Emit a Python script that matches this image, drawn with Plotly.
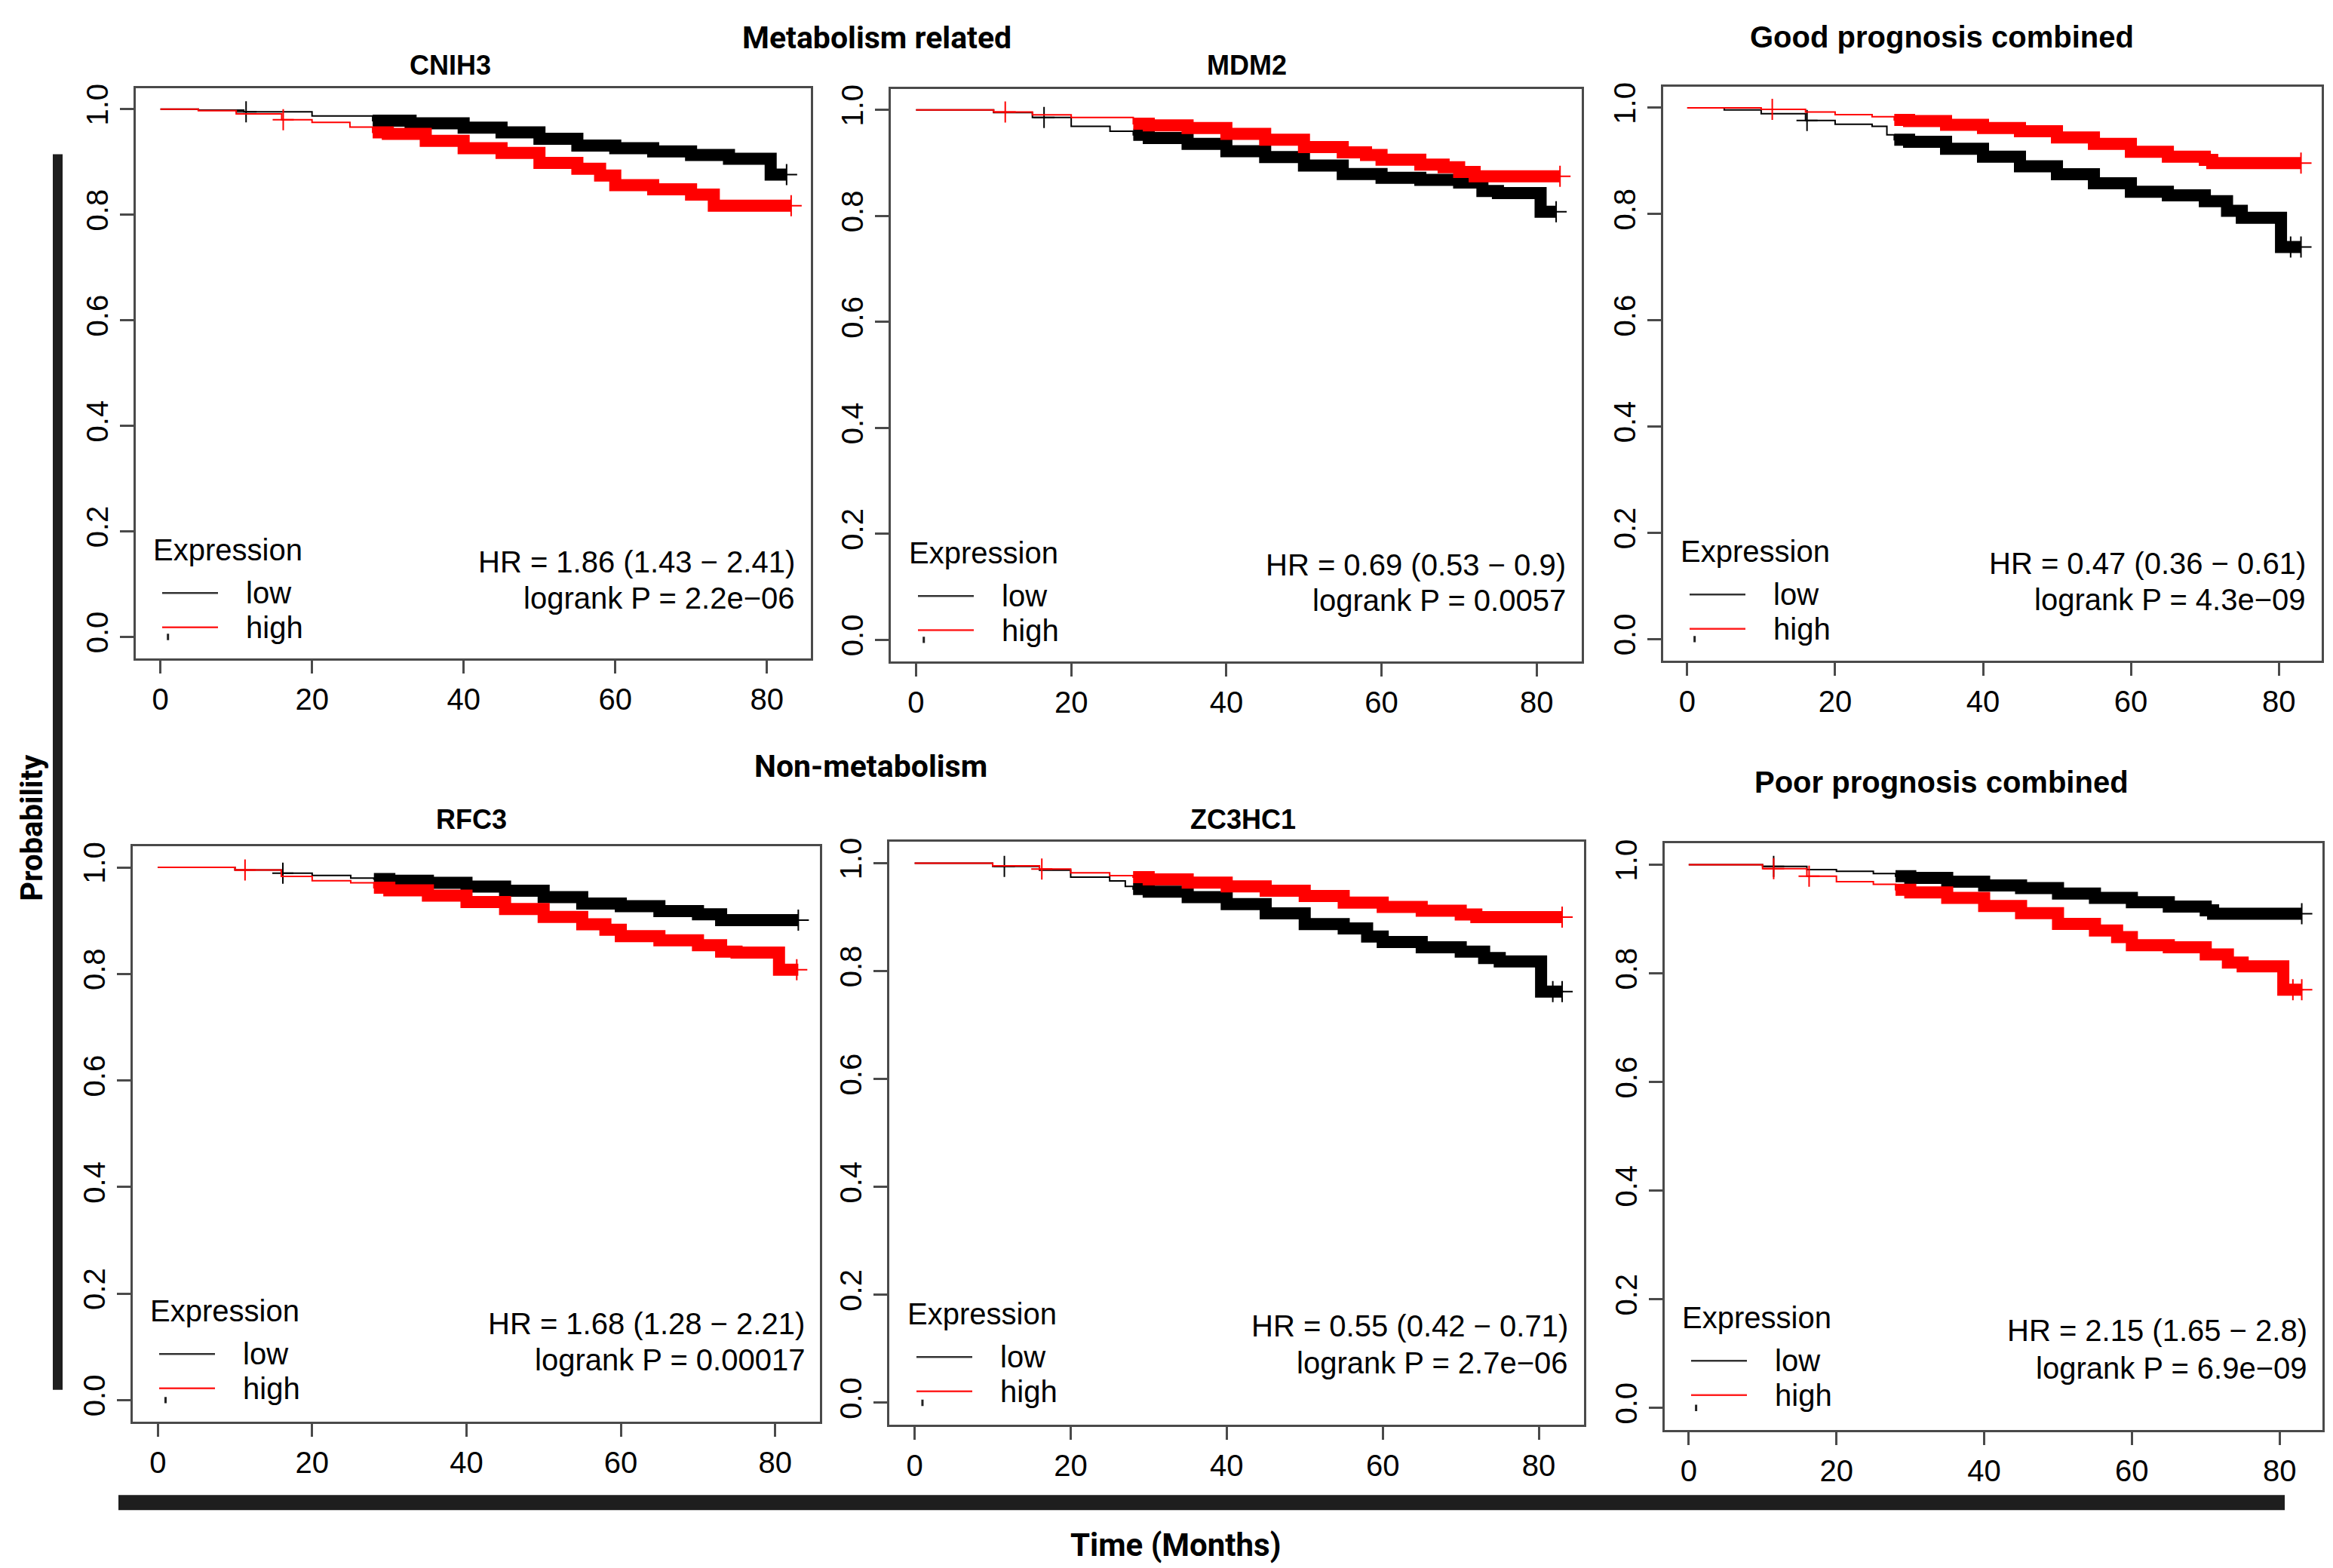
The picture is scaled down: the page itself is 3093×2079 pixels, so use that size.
import plotly.graph_objects as go

W, H = 3093, 2079

# ---------------- data ----------------
panel_titles = ["CNIH3", "MDM2", "Good prognosis combined", "RFC3", "ZC3HC1", "Poor prognosis combined"]
group_titles = ["Metabolism related", "Non-metabolism"]
legend_title = "Expression"
legend_labels = ["low", "high"]
x_ticks = [0, 20, 40, 60, 80]
y_ticks = [0.0, 0.2, 0.4, 0.6, 0.8, 1.0]
y_tick_labels = ["0.0", "0.2", "0.4", "0.6", "0.8", "1.0"]

hr_lines = [
    ("HR = 1.86 (1.43 − 2.41)", "logrank P = 2.2e−06"),
    ("HR = 0.69 (0.53 − 0.9)", "logrank P = 0.0057"),
    ("HR = 0.47 (0.36 − 0.61)", "logrank P = 4.3e−09"),
    ("HR = 1.68 (1.28 − 2.21)", "logrank P = 0.00017"),
    ("HR = 0.55 (0.42 − 0.71)", "logrank P = 2.7e−06"),
    ("HR = 2.15 (1.65 − 2.8)", "logrank P = 6.9e−09"),
]

# Kaplan-Meier step knots (time in months, survival after the step)
CNIH3_low_t = [0, 5, 11, 20, 28, 33, 40, 45, 50, 55, 60, 65, 70, 75, 80.5, 82.6]
CNIH3_low_s = [1.0, 0.998, 0.995, 0.987, 0.978, 0.973, 0.965, 0.956, 0.944, 0.931, 0.926, 0.92, 0.913, 0.906, 0.876, 0.876]
CNIH3_high_t = [0, 5, 10, 16, 20, 25, 28, 30, 35, 40, 45, 50, 55, 58, 60, 65, 70, 73, 83.2]
CNIH3_high_s = [1.0, 0.997, 0.991, 0.98, 0.975, 0.966, 0.956, 0.953, 0.94, 0.926, 0.917, 0.898, 0.887, 0.874, 0.856, 0.848, 0.838, 0.817, 0.817]

MDM2_low_t = [0, 10, 15, 20, 25, 28, 30, 35, 40, 45, 50, 55, 60, 65, 70, 73, 75, 80.5, 82.5]
MDM2_low_s = [1.0, 0.995, 0.986, 0.969, 0.96, 0.953, 0.947, 0.936, 0.922, 0.911, 0.895, 0.879, 0.872, 0.868, 0.863, 0.847, 0.843, 0.808, 0.808]
MDM2_high_t = [0, 10, 15, 20, 28, 30, 35, 40, 45, 50, 55, 58, 60, 65, 68, 70, 72, 83]
MDM2_high_s = [1.0, 0.996, 0.991, 0.986, 0.974, 0.971, 0.966, 0.955, 0.944, 0.93, 0.92, 0.915, 0.906, 0.897, 0.892, 0.883, 0.875, 0.875]

Good_low_t = [0, 5, 10, 16, 20, 25, 27, 28, 30, 35, 40, 45, 50, 55, 60, 65, 70, 73, 75, 80.3, 83]
Good_low_s = [1.0, 0.996, 0.989, 0.976, 0.969, 0.965, 0.949, 0.94, 0.936, 0.923, 0.908, 0.89, 0.875, 0.858, 0.842, 0.835, 0.824, 0.806, 0.793, 0.738, 0.738]
Good_high_t = [0, 10, 16, 20, 25, 28, 30, 35, 40, 45, 50, 55, 60, 65, 70, 71, 83]
Good_high_s = [1.0, 0.997, 0.992, 0.987, 0.983, 0.977, 0.975, 0.968, 0.962, 0.956, 0.944, 0.932, 0.917, 0.908, 0.902, 0.896, 0.896]

RFC3_low_t = [0, 10, 16, 20, 25, 28, 30, 35, 40, 45, 50, 55, 60, 65, 70, 73, 83]
RFC3_low_s = [1.0, 0.995, 0.989, 0.985, 0.98, 0.978, 0.975, 0.971, 0.964, 0.956, 0.944, 0.932, 0.927, 0.918, 0.912, 0.901, 0.901]
RFC3_high_t = [0, 10, 16, 20, 25, 28, 30, 35, 40, 45, 50, 55, 58, 60, 65, 70, 73, 75, 80.5, 83]
RFC3_high_s = [1.0, 0.995, 0.983, 0.975, 0.971, 0.962, 0.957, 0.947, 0.935, 0.922, 0.907, 0.893, 0.883, 0.871, 0.863, 0.854, 0.842, 0.84, 0.808, 0.808]

ZC3HC1_low_t = [0, 10, 16, 20, 25, 27, 28, 30, 35, 40, 45, 50, 55, 58, 60, 65, 70, 73, 75, 80.3, 83]
ZC3HC1_low_s = [1.0, 0.994, 0.987, 0.974, 0.967, 0.957, 0.952, 0.947, 0.937, 0.924, 0.907, 0.887, 0.879, 0.864, 0.854, 0.844, 0.836, 0.824, 0.818, 0.762, 0.762]
ZC3HC1_high_t = [0, 10, 16, 20, 25, 28, 30, 35, 40, 45, 50, 55, 60, 65, 70, 72, 83]
ZC3HC1_high_s = [1.0, 0.995, 0.989, 0.982, 0.977, 0.974, 0.97, 0.964, 0.957, 0.949, 0.939, 0.927, 0.919, 0.912, 0.905, 0.9, 0.9]

Poor_low_t = [0, 10, 16, 20, 25, 28, 30, 35, 40, 45, 50, 55, 60, 65, 70, 71, 83]
Poor_low_s = [1.0, 0.997, 0.991, 0.988, 0.984, 0.979, 0.976, 0.969, 0.962, 0.957, 0.947, 0.939, 0.931, 0.923, 0.916, 0.91, 0.91]
Poor_high_t = [0, 10, 16, 20, 25, 28, 30, 35, 40, 45, 50, 55, 58, 60, 65, 70, 73, 75, 80.5, 83]
Poor_high_s = [1.0, 0.993, 0.979, 0.969, 0.964, 0.954, 0.949, 0.939, 0.924, 0.911, 0.891, 0.879, 0.867, 0.852, 0.848, 0.835, 0.82, 0.813, 0.77, 0.77]

# sparse censoring marks (months); dense censoring starts at band_start
CNIH3_low_c = [11.3, 82.6]
CNIH3_high_c = [16.2, 83.2]
MDM2_low_c = [16.5, 82.5]
MDM2_high_c = [11.5, 83]
Good_low_c = [16.2, 81.6, 83]
Good_high_c = [11.5, 83]
RFC3_low_c = [16.2, 83]
RFC3_high_c = [11.3, 82.8]
ZC3HC1_low_c = [11.5, 81.8, 83]
ZC3HC1_high_c = [16.3, 83]
Poor_low_c = [11.5, 83]
Poor_high_c = [11.5, 16.3, 81.8, 83]
band_start = 28

# small stray legend point drawn by R in every panel (month, probability)
legend_dot_t = [1.0]
legend_dot_s = [0.0]

curves = [
    [(CNIH3_low_t, CNIH3_low_s, CNIH3_low_c), (CNIH3_high_t, CNIH3_high_s, CNIH3_high_c)],
    [(MDM2_low_t, MDM2_low_s, MDM2_low_c), (MDM2_high_t, MDM2_high_s, MDM2_high_c)],
    [(Good_low_t, Good_low_s, Good_low_c), (Good_high_t, Good_high_s, Good_high_c)],
    [(RFC3_low_t, RFC3_low_s, RFC3_low_c), (RFC3_high_t, RFC3_high_s, RFC3_high_c)],
    [(ZC3HC1_low_t, ZC3HC1_low_s, ZC3HC1_low_c), (ZC3HC1_high_t, ZC3HC1_high_s, ZC3HC1_high_c)],
    [(Poor_low_t, Poor_low_s, Poor_low_c), (Poor_high_t, Poor_high_s, Poor_high_c)],
]

# ---------------- layout geometry (pixels) ----------------
boxes = [  # left, right, top, bottom
    (172, 1067, 103, 861),
    (1173, 2089, 104, 865),
    (2197, 3070, 101, 864),
    (168, 1079, 1111, 1876),
    (1171, 2092, 1105, 1880),
    (2199, 3071, 1107, 1887),
]
title_pos = [(589, 73), (1645, 73), (2566, 35), (617, 1076), (1640, 1076), (2566, 1026)]
group_pos = [(1154, 36), (1146, 1005)]
hr_pos = [(1048, 733, 781), (2070, 737, 784), (3051, 735, 783),
          (1061, 1746, 1794), (2073, 1749, 1798), (3053, 1755, 1805)]
leg_pos = [(193, 717), (1195, 721), (2218, 719), (189, 1729), (1193, 1733), (2220, 1738)]

colors = ["#000000", "#ff0000"]
key_colors = ["#333333", "#ff2020"]
FONT = "Liberation Sans, Arial, sans-serif"
BOLD2 = "Roboto, Liberation Sans, sans-serif"


def px(x):
    return x / W


def py(y):
    return 1 - y / H


def step_value(t, s, x):
    v = s[0]
    for ti, si in zip(t, s):
        if ti <= x:
            v = si
    return v


fig = go.Figure()
layout = dict(
    width=W, height=H, margin=dict(l=0, r=0, t=0, b=0),
    paper_bgcolor="white", plot_bgcolor="white", showlegend=False,
)
annotations = []
shapes = []

for i, (box, pcurves) in enumerate(zip(boxes, curves)):
    n = i + 1
    xa = "x" if n == 1 else f"x{n}"
    ya = "y" if n == 1 else f"y{n}"
    l, r, t, b = box
    axis_common = dict(
        showline=True, mirror=True, linecolor="#4a4a4a", linewidth=2.5,
        ticks="outside", ticklen=18, tickwidth=2.5, tickcolor="#4a4a4a",
        showgrid=False, zeroline=False,
        tickfont=dict(family=FONT, size=40, color="#000"),
    )
    layout["xaxis" if n == 1 else f"xaxis{n}"] = dict(
        domain=[px(l), px(r)], range=[-3.25, 85.8], tickvals=x_ticks,
        anchor=ya, **axis_common)
    layout["yaxis" if n == 1 else f"yaxis{n}"] = dict(
        domain=[py(b), py(t)], range=[-0.04, 1.04], tickvals=y_ticks,
        ticktext=y_tick_labels, tickangle=-90, anchor=xa, **axis_common)

    for k, (tt, ss, cc) in enumerate(pcurves):
        col = colors[k]
        # thin step curve
        fig.add_trace(go.Scatter(
            x=tt, y=ss, mode="lines", line=dict(color=col, width=2, shape="hv"),
            name=legend_labels[k], xaxis=xa, yaxis=ya, hoverinfo="skip"))
        # dense censoring band
        bx = [band_start] + [v for v in tt if v > band_start]
        by = [step_value(tt, ss, band_start)] + [v for v, q in zip(ss, tt) if q > band_start]
        fig.add_trace(go.Scatter(
            x=bx, y=by, mode="lines", line=dict(color=col, width=16, shape="hv"),
            xaxis=xa, yaxis=ya, hoverinfo="skip"))
        # sparse censoring marks
        fig.add_trace(go.Scatter(
            x=cc, y=[step_value(tt, ss, c) for c in cc], mode="markers",
            marker=dict(symbol="cross-thin", size=20, line=dict(color=col, width=2)),
            xaxis=xa, yaxis=ya, hoverinfo="skip"))

    # stray legend point
    fig.add_trace(go.Scatter(
        x=legend_dot_t, y=legend_dot_s, mode="markers",
        marker=dict(symbol="line-ns", size=6, line=dict(color="#222", width=3)),
        xaxis=xa, yaxis=ya, hoverinfo="skip"))

    # per-panel legend box (title, keys, labels)
    lx, ly = leg_pos[i]
    annotations.append(dict(
        text=legend_title, x=px(lx), y=py(ly), xref="paper", yref="paper",
        xanchor="left", yanchor="middle", showarrow=False,
        font=dict(family=FONT, size=40, color="#000")))
    for k, lab in enumerate(legend_labels):
        ky = ly + 57.5 + 45.5 * k
        shapes.append(dict(type="line", xref="paper", yref="paper",
                           x0=px(lx + 14), x1=px(lx + 88), y0=py(ky), y1=py(ky),
                           line=dict(color=key_colors[k], width=2.5)))
        annotations.append(dict(
            text=lab, x=px(lx + 123), y=py(ky), xref="paper", yref="paper",
            xanchor="left", yanchor="middle", showarrow=False,
            font=dict(family=FONT, size=40, color="#000")))

    hx, hy1, hy2 = hr_pos[i]
    for txt, hy in zip(hr_lines[i], (hy1, hy2)):
        annotations.append(dict(
            text=txt, x=px(hx), y=py(hy), xref="paper", yref="paper",
            xanchor="right", yanchor="middle", showarrow=False,
            font=dict(family=FONT, size=40, color="#000")))

    tx, ty = title_pos[i]
    big = "prognosis" in panel_titles[i]
    annotations.append(dict(
        text=f"<b>{panel_titles[i]}</b>", x=px(tx), y=py(ty), xref="paper", yref="paper",
        xanchor="center", yanchor="middle", showarrow=False,
        font=dict(family=FONT, size=40 if big else 36, color="#000")))

for g, (gx, gy) in zip(group_titles, group_pos):
    annotations.append(dict(
        text=f"<b>{g}</b>", x=px(gx), y=py(gy), xref="paper", yref="paper",
        xanchor="center", yanchor="middle", showarrow=False,
        font=dict(family=BOLD2, size=41, color="#000")))

annotations.append(dict(
    text="<b>Probability</b>", x=px(35), y=py(1087), xref="paper", yref="paper",
    xanchor="center", yanchor="middle", textangle=-90, showarrow=False,
    font=dict(family=BOLD2, size=40, color="#000")))
annotations.append(dict(
    text="<b>Time (Months)</b>", x=px(1550), y=py(2040), xref="paper", yref="paper",
    xanchor="center", yanchor="middle", showarrow=False,
    font=dict(family=BOLD2, size=42, color="#000")))

shapes += [
    dict(type="rect", xref="paper", yref="paper", x0=px(62), x1=px(75), y0=py(1834), y1=py(191),
         fillcolor="#1e1e1e", line=dict(width=0)),
    dict(type="rect", xref="paper", yref="paper", x0=px(149), x1=px(3021), y0=py(1994), y1=py(1974),
         fillcolor="#1e1e1e", line=dict(width=0)),
]
layout["annotations"] = annotations
layout["shapes"] = shapes

fig.update_layout(**layout)
fig.write_html("out.html")
